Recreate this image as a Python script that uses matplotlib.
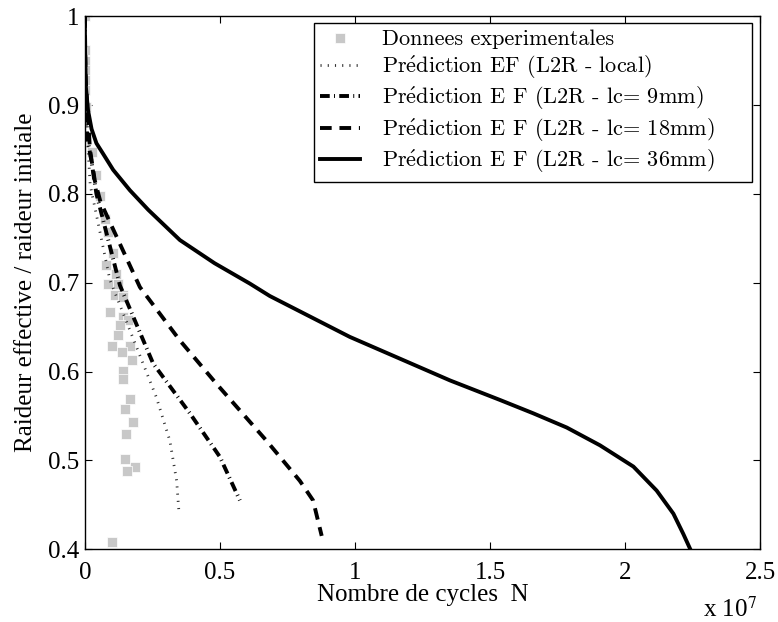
import numpy as np
import matplotlib.pyplot as plt
from matplotlib.ticker import FuncFormatter

plt.rcParams['mathtext.fontset'] = 'cm'

# experimental points (N in units of 1e7)
exp_n = [0.0, 0.001, 0.002, 0.001, 0.002, 0.001, 0.003, 0.006, 0.025, 0.043, 0.056,
         0.074, 0.086, 0.105, 0.080, 0.117, 0.086, 0.123, 0.142, 0.111, 0.142,
         0.093, 0.142, 0.160, 0.130, 0.123, 0.099, 0.167, 0.136, 0.173, 0.142,
         0.142, 0.167, 0.148, 0.179, 0.152, 0.148, 0.185, 0.157, 0.099]
exp_k = [1.0, 0.962, 0.950, 0.939, 0.928, 0.917, 0.898, 0.864, 0.847, 0.821, 0.798,
         0.772, 0.757, 0.733, 0.720, 0.710, 0.699, 0.699, 0.686, 0.686, 0.684,
         0.667, 0.661, 0.658, 0.652, 0.641, 0.629, 0.629, 0.622, 0.613, 0.601,
         0.592, 0.569, 0.558, 0.543, 0.530, 0.501, 0.492, 0.488, 0.408]

# EF local
loc_n = [0.0, 0.002, 0.020, 0.093, 0.191, 0.265, 0.315, 0.340, 0.349]
loc_k = [1.0, 0.900, 0.810, 0.703, 0.628, 0.571, 0.522, 0.477, 0.440]

# lc = 9mm
lc9_n = [0.0, 0.002, 0.009, 0.025, 0.043, 0.130, 0.253, 0.389, 0.500, 0.574]
lc9_k = [1.0, 0.920, 0.864, 0.836, 0.800, 0.697, 0.609, 0.553, 0.504, 0.455]

# lc = 18mm
lc18_n = [0.0, 0.003, 0.019, 0.037, 0.058, 0.093, 0.204, 0.352, 0.488, 0.673, 0.796, 0.845, 0.877]
lc18_k = [1.0, 0.930, 0.850, 0.815, 0.791, 0.768, 0.695, 0.635, 0.586, 0.522, 0.477, 0.455, 0.415]

# lc = 36mm
lc36_n = [0.0, 0.001, 0.004, 0.012, 0.025, 0.043, 0.068, 0.105, 0.167, 0.235, 0.352,
          0.48, 0.611, 0.685, 0.981, 1.352, 1.537, 1.66, 1.784, 1.907, 2.031, 2.117,
          2.179, 2.216, 2.243]
lc36_k = [1.0, 0.960, 0.920, 0.894, 0.873, 0.857, 0.845, 0.827, 0.804, 0.782, 0.748,
          0.722, 0.699, 0.685, 0.639, 0.590, 0.568, 0.553, 0.537, 0.517, 0.493, 0.466,
          0.440, 0.417, 0.399]

serif = ['Liberation Serif', 'DejaVu Serif']
leg_font = ['cmr10', 'DejaVu Serif']
acc = r'Pr$\acute{\mathrm{e}}$diction'

fig = plt.figure(figsize=(7.78, 6.22), dpi=100)
ax = fig.add_axes([0.109, 0.117, 0.868, 0.857])

sc = 1e7
ax.plot(np.array(exp_n) * sc, exp_k, 's', color='#c8c8c8', markersize=7, mec='white', mew=0.5,
        label='Donnees experimentales')
ax.plot(np.array(loc_n) * sc, loc_k, color='#333333', lw=2.0, linestyle=(0, (0.4, 2.2)),
        dash_capstyle='butt', label=acc + ' EF (L2R - local)')
ax.plot(np.array(lc9_n) * sc, lc9_k, color='black', lw=2.8, linestyle=(0, (2.5, 1.1, 0.25, 1.1)),
        dash_capstyle='butt', label=acc + ' E F (L2R - lc= 9mm)')
ax.plot(np.array(lc18_n) * sc, lc18_k, color='black', lw=2.8, linestyle=(0, (3, 2)),
        dash_capstyle='butt', label=acc + ' E F (L2R - lc= 18mm)')
ax.plot(np.array(lc36_n) * sc, lc36_k, color='black', lw=2.8, linestyle='-',
        label=acc + ' E F (L2R - lc= 36mm)')

ax.set_xlim(0, 2.5e7)
ax.set_ylim(0.4, 1.0)
ax.set_xticks(np.arange(0, 2.51e7, 0.5e7))
ax.set_yticks(np.arange(0.4, 1.001, 0.1))
ax.xaxis.set_major_formatter(FuncFormatter(lambda v, p: '%g' % round(v / 1e7, 3)))
ax.yaxis.set_major_formatter(FuncFormatter(lambda v, p: '%g' % round(v, 3)))
ax.tick_params(direction='in', top=True, right=True, length=5, width=0.8, labelsize=18)
ax.tick_params(axis='x', pad=9)
ax.tick_params(axis='y', pad=4)
for lab in ax.get_xticklabels() + ax.get_yticklabels():
    lab.set_family(serif)
for s in ax.spines.values():
    s.set_linewidth(1.0)

ax.set_xlabel('Nombre de cycles  N', family=serif, fontsize=18, labelpad=0)
ax.set_ylabel('Raideur effective / raideur initiale', family=serif, fontsize=18, labelpad=8)
fig.text(0.903, 0.008, r'x 10$^7$', family=serif, fontsize=18, math_fontfamily='stix')

leg = ax.legend(loc='upper left', bbox_to_anchor=(0.339, 0.0, 0.649, 0.987), mode='expand',
                prop={'family': leg_font, 'size': 16}, frameon=True,
                fancybox=False, edgecolor='black', framealpha=1, handlelength=1.8,
                handletextpad=0.95, borderpad=0.3, borderaxespad=0.0, labelspacing=0.2,
                numpoints=1)
leg.get_frame().set_linewidth(1.0)

fig.savefig('out.png', dpi=100)
